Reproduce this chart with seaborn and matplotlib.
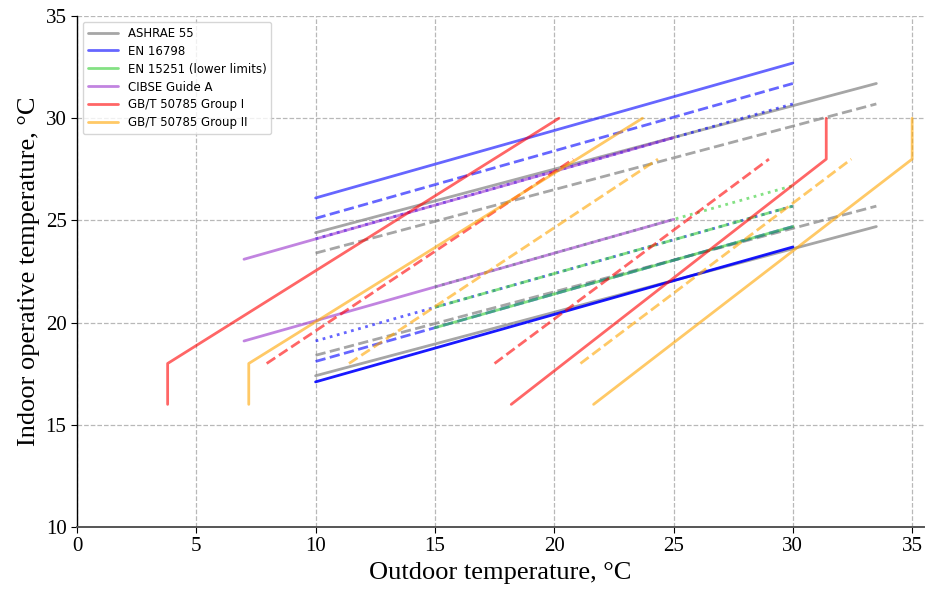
import matplotlib
matplotlib.use("Agg")
import matplotlib.pyplot as plt
import seaborn as sns

# ---------------- data ----------------
ashrae_x = [10, 33.5]
ashrae_upper80 = [24.4, 31.7]
ashrae_lower80 = [17.4, 24.7]
ashrae_upper90 = [23.4, 30.7]
ashrae_lower90 = [18.4, 25.7]

en16798_x = [10, 30]
en16798_cat3_upper = [26.1, 32.7]
en16798_cat2_upper = [25.1, 31.7]
en16798_cat1_upper = [24.1, 30.7]
en16798_cat1_lower = [19.1, 25.7]
en16798_cat2_lower = [18.1, 24.7]
en16798_cat3_lower = [17.1, 23.7]

en15251_x = [15, 30]
en15251_cat1_lower = [21.75, 26.7]
en15251_cat2_lower = [20.75, 25.7]
en15251_cat3_lower = [19.75, 24.7]

cibse_x = [7, 25]
cibse_upper = [23.1, 29.05]
cibse_lower = [19.1, 25.05]

gbt1_upper_solid_x = [3.8, 3.8, 20.2]
gbt1_upper_solid_y = [16, 18, 30]
gbt1_upper_dashed_x = [7.95, 20.8]
gbt1_upper_dashed_y = [18, 28]
gbt1_lower_dashed_x = [17.5, 29.0]
gbt1_lower_dashed_y = [18, 28]
gbt1_lower_solid_x = [18.2, 31.4, 31.4]
gbt1_lower_solid_y = [16, 28, 30]

gbt2_upper_solid_x = [7.2, 7.2, 23.7]
gbt2_upper_solid_y = [16, 18, 30]
gbt2_upper_dashed_x = [11.4, 24.35]
gbt2_upper_dashed_y = [18, 28]
gbt2_lower_dashed_x = [21.1, 32.45]
gbt2_lower_dashed_y = [18, 28]
gbt2_lower_solid_x = [21.65, 35.0, 35.0]
gbt2_lower_solid_y = [16, 28, 30]

x_ticks = [0, 5, 10, 15, 20, 25, 30, 35]
y_ticks = [10, 15, 20, 25, 30, 35]
labels = ["ASHRAE 55", "EN 16798", "EN 15251 (lower limits)", "CIBSE Guide A",
          "GB/T 50785 Group I", "GB/T 50785 Group II"]

# ---------------- styling ----------------
sns.set_style("ticks")
plt.rcParams["font.family"] = ["Liberation Serif", "DejaVu Serif"]
plt.rcParams["text.color"] = "black"
plt.rcParams["axes.labelcolor"] = "black"
plt.rcParams["xtick.color"] = "black"
plt.rcParams["ytick.color"] = "black"

fig = plt.figure(figsize=(9.25, 5.94), dpi=100)
ax = fig.add_axes([0.0832, 0.1128, 0.9158, 0.8602])

LW = 2.0
A = 0.6


def draw(x, y, color, ls="-", alpha=A, label=None):
    sns.lineplot(x=x, y=y, color=color, linestyle=ls, alpha=alpha, lw=LW,
                 sort=False, estimator=None, ax=ax, label=label)


# ASHRAE 55
g = "grey"
draw(ashrae_x, ashrae_upper80, g, "-", 0.7, labels[0])
draw(ashrae_x, ashrae_lower80, g, "-", 0.7)
draw(ashrae_x, ashrae_upper90, g, "--", 0.7)
draw(ashrae_x, ashrae_lower90, g, "--", 0.7)

# EN 16798
b = "blue"
draw(en16798_x, en16798_cat3_upper, b, "-", A, labels[1])
draw(en16798_x, en16798_cat2_upper, b, "--")
draw(en16798_x, en16798_cat1_upper, b, ":")
draw(en16798_x, en16798_cat1_lower, b, ":")
draw(en16798_x, en16798_cat2_lower, b, "--")
draw(en16798_x, en16798_cat3_lower, b, "-", 0.9)

# EN 15251 lower limits
gr = "limegreen"
draw(en15251_x, en15251_cat3_lower, gr, "-", A, labels[2])
draw(en15251_x, en15251_cat2_lower, gr, "--")
draw(en15251_x, en15251_cat1_lower, gr, ":")

# CIBSE Guide A
p = "darkorchid"
draw(cibse_x, cibse_upper, p, "-", A, labels[3])
draw(cibse_x, cibse_lower, p, "-")

# GB/T 50785 Group I
r = "red"
draw(gbt1_upper_solid_x, gbt1_upper_solid_y, r, "-", A, labels[4])
draw(gbt1_upper_dashed_x, gbt1_upper_dashed_y, r, "--")
draw(gbt1_lower_dashed_x, gbt1_lower_dashed_y, r, "--")
draw(gbt1_lower_solid_x, gbt1_lower_solid_y, r, "-")

# GB/T 50785 Group II
o = "orange"
draw(gbt2_upper_solid_x, gbt2_upper_solid_y, o, "-", A, labels[5])
draw(gbt2_upper_dashed_x, gbt2_upper_dashed_y, o, "--")
draw(gbt2_lower_dashed_x, gbt2_lower_dashed_y, o, "--")
draw(gbt2_lower_solid_x, gbt2_lower_solid_y, o, "-")

# axes
ax.set_xlim(0, 35.5)
ax.set_ylim(10, 35)
ax.set_xticks(x_ticks)
ax.set_yticks(y_ticks)
ax.tick_params(labelsize=15, length=4, width=0.8, colors="black")
ax.grid(True, linestyle="--", color="#b8b8b8", lw=0.9)
sns.despine(ax=ax)
ax.spines["bottom"].set_color("#555555")
ax.spines["bottom"].set_linewidth(1.4)
ax.spines["left"].set_color("black")
ax.spines["left"].set_linewidth(1.0)

ax.set_xlabel("Outdoor temperature, °C", fontsize=19, color="black")
ax.set_ylabel("Indoor operative temperature, °C", fontsize=19, color="black")

leg = ax.legend(loc="upper left", prop={"family": "DejaVu Sans", "size": 8.5},
                frameon=True, handlelength=2.6, labelspacing=0.42)
for t in leg.get_texts():
    t.set_family("DejaVu Sans")
    t.set_color("black")

fig.savefig("out.png", dpi=100)
